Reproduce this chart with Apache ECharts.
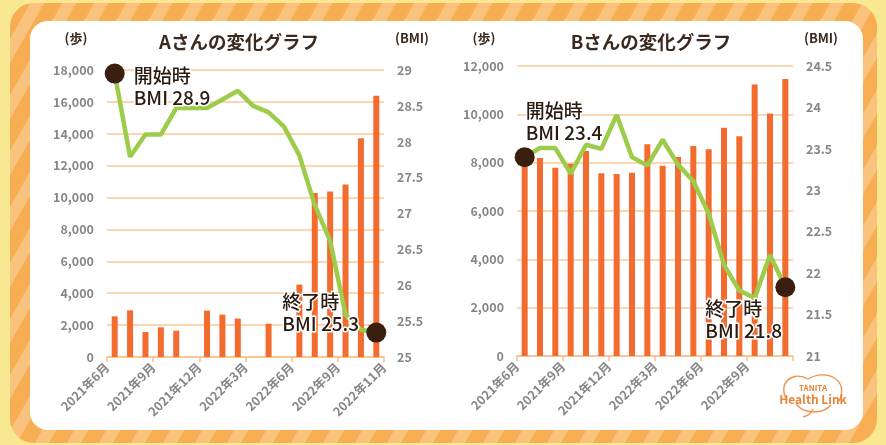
<!DOCTYPE html>
<html>
<head>
<meta charset="utf-8">
<script src="https://cdn.jsdelivr.net/npm/echarts@6/dist/echarts.min.js"></script>
<style>
  html, body { margin: 0; padding: 0; background: #f9e892; }
  #chart { width: 886px; height: 445px; }
</style>
</head>
<body>
<div id="chart"></div>
<script>
const months = [
  "2021年6月", "2021年7月", "2021年8月", "2021年9月", "2021年10月", "2021年11月",
  "2021年12月", "2022年1月", "2022年2月", "2022年3月", "2022年4月", "2022年5月",
  "2022年6月", "2022年7月", "2022年8月", "2022年9月", "2022年10月", "2022年11月",
];
// labels sit on every third category boundary (19 boundaries)
const tickLabelsA = ["2021年6月", "2021年9月", "2021年12月", "2022年3月", "2022年6月", "2022年9月", "2022年11月"];
const tickLabelsB = ["2021年6月", "2021年9月", "2021年12月", "2022年3月", "2022年6月", "2022年9月", ""];

const stepsA = [2550, 2930, 1570, 1860, 1650, null, 2910, 2660, 2410, null, 2090, null, 4540, 10290, 10380, 10820, 13720, 16380];
const bmiA = [28.95, 27.79, 28.1, 28.1, 28.47, 28.47, 28.47, 28.59, 28.71, 28.5, 28.41, 28.21, 27.81, 27.12, 26.62, 25.59, 25.38, 25.34];
const stepsB = [8100, 8190, 7790, 7960, 8480, 7560, 7530, 7580, 8760, 7870, 8230, 8690, 8560, 9450, 9090, 11230, 10030, 11460];
const bmiB = [23.4, 23.51, 23.51, 23.2, 23.55, 23.5, 23.91, 23.4, 23.3, 23.61, 23.31, 23.11, 22.72, 22.1, 21.79, 21.7, 22.22, 21.83];

const titles = ["Aさんの変化グラフ", "Bさんの変化グラフ"];
const startNotes = ["開始時\nBMI 28.9", "開始時\nBMI 23.4"];
const endNotes = ["終了時\nBMI 25.3", "終了時\nBMI 21.8"];

const stepAxis = [{ max: 18000, interval: 2000 }, { max: 12000, interval: 2000 }];
const bmiAxis = [{ min: 25, max: 29, interval: 0.5 }, { min: 21, max: 24.5, interval: 0.5 }];

const darkText = "#3b2a1f";
const grayText = "#868686";
const gridOrange = "#fcc896";
const axisOrange = "#fbbf85";
const barOrange = "#f26b2f";
const lineGreen = "#9dcc4a";
const dotBrown = "#3a1f10";
const logoOrange = "#ec9450";
const font = '"Noto Sans CJK JP", "Noto Sans", sans-serif';

function boundaryLabels(labels) {
  const out = new Array(months.length + 1).fill("");
  labels.forEach((l, i) => { out[i * 3] = l; });
  return out;
}

// diagonal stripe pattern for the frame
const pat = document.createElement("canvas");
const PW = 32, PH = 56, BW = 14;
pat.width = PW; pat.height = PH;
const pc = pat.getContext("2d");
pc.fillStyle = "#f7ae52";
pc.fillRect(0, 0, PW, PH);
pc.fillStyle = "#f9c27d";
for (let k = -1; k <= 1; k++) {
  pc.beginPath();
  pc.moveTo(k * PW, PH);
  pc.lineTo(k * PW + BW, PH);
  pc.lineTo(k * PW + PW + BW, 0);
  pc.lineTo(k * PW + PW, 0);
  pc.closePath();
  pc.fill();
}

const grids = [
  { left: 107, right: 502, top: 70, bottom: 88 },
  { left: 517, right: 93, top: 66, bottom: 89 },
];
const data = [
  { steps: stepsA, bmi: bmiA, ticks: tickLabelsA },
  { steps: stepsB, bmi: bmiB, ticks: tickLabelsB },
];
const notePos = [
  { start: [29, 1], end: [-84, -32] },
  { start: [11, -47], end: [-70, 21] },
];

const xAxis = [], yAxis = [], series = [];
data.forEach((d, p) => {
  xAxis.push({
    gridIndex: p, type: "category", position: "bottom", data: months, boundaryGap: true, show: false,
  });
  xAxis.push({
    gridIndex: p, type: "category", position: "bottom", data: boundaryLabels(d.ticks), boundaryGap: false,
    axisLine: { lineStyle: { color: axisOrange, width: 1.5 } },
    axisTick: { interval: 2, length: 5, lineStyle: { color: axisOrange, width: 1.5 } },
    axisLabel: { interval: 2, rotate: 45, color: grayText, fontSize: 12.5, fontWeight: "bold", margin: 8 },
    splitLine: { show: false },
  });
  yAxis.push({
    gridIndex: p, type: "value", position: "left", min: 0,
    max: stepAxis[p].max, interval: stepAxis[p].interval,
    axisLine: { show: false }, axisTick: { show: false },
    axisLabel: { color: grayText, fontSize: 12.5, fontWeight: "bold", margin: 13,
      formatter: (v) => v.toLocaleString("en-US") },
    splitLine: { lineStyle: { color: gridOrange, width: 1.5 } },
  });
  yAxis.push({
    gridIndex: p, type: "value", position: "right",
    min: bmiAxis[p].min, max: bmiAxis[p].max, interval: bmiAxis[p].interval,
    axisLine: { show: false }, axisTick: { show: false },
    axisLabel: { color: grayText, fontSize: 12.5, fontWeight: "bold", margin: 13 },
    splitLine: { show: false },
  });
  series.push({
    type: "bar", name: "歩数", xAxisIndex: p * 2, yAxisIndex: p * 2,
    data: d.steps, barWidth: 6, itemStyle: { color: barOrange },
  });
  const last = d.bmi.length - 1;
  const note = (text, pos) => ({
    show: true, formatter: text, position: pos, color: "#2a1a10", fontSize: 19,
    fontWeight: 500, lineHeight: 22, fontFamily: font,
    textBorderColor: "#fff", textBorderWidth: 3,
  });
  series.push({
    type: "line", name: "BMI", xAxisIndex: p * 2, yAxisIndex: p * 2 + 1,
    data: d.bmi, symbol: "none", z: 3,
    lineStyle: { color: lineGreen, width: 4.5 },
    markPoint: {
      symbol: "circle", symbolSize: 20, itemStyle: { color: dotBrown }, animation: false,
      data: [
        { coord: [months[0], d.bmi[0]], label: note(startNotes[p], notePos[p].start) },
        { coord: [months[last], d.bmi[last]], label: note(endNotes[p], notePos[p].end) },
      ],
    },
  });
});

const curve = (x1, y1, c1x, c1y, c2x, c2y, x2, y2) => ({
  type: "bezierCurve", z: 1,
  shape: { x1: x1, y1: y1, cpx1: c1x, cpy1: c1y, cpx2: c2x, cpy2: c2y, x2: x2, y2: y2 },
  style: { fill: null, stroke: logoOrange, lineWidth: 1.4 },
});

const chart = echarts.init(document.getElementById("chart"));
chart.setOption({
  animation: false,
  backgroundColor: "#f9e892",
  textStyle: { fontFamily: font },
  title: [
    { text: titles[0], left: 239, top: 33, textAlign: "center", padding: 0,
      textStyle: { color: darkText, fontSize: 18.5, fontWeight: "bold" } },
    { text: titles[1], left: 651, top: 33, textAlign: "center", padding: 0,
      textStyle: { color: darkText, fontSize: 18.5, fontWeight: "bold" } },
    { text: "(歩)", left: 76, top: 32, textAlign: "center", padding: 0,
      textStyle: { color: darkText, fontSize: 13, fontWeight: "bold" } },
    { text: "(BMI)", left: 412, top: 32, textAlign: "center", padding: 0,
      textStyle: { color: darkText, fontSize: 13, fontWeight: "bold" } },
    { text: "(歩)", left: 484, top: 32, textAlign: "center", padding: 0,
      textStyle: { color: darkText, fontSize: 13, fontWeight: "bold" } },
    { text: "(BMI)", left: 821, top: 32, textAlign: "center", padding: 0,
      textStyle: { color: darkText, fontSize: 13, fontWeight: "bold" } },
  ],
  graphic: [
    { type: "rect", z: -100, shape: { x: 10, y: 3, width: 867, height: 440, r: 24 },
      style: { fill: { image: pat, repeat: "repeat" } } },
    { type: "rect", z: -99, shape: { x: 30, y: 21, width: 833, height: 409, r: 18 },
      style: { fill: "#ffffff" } },
    curve(787, 400, 777, 384, 792, 370, 808, 379),
    curve(808, 379, 826, 368, 850, 380, 839, 401),
    curve(796, 404, 804, 414, 822, 415, 831, 405),
    curve(813, 409, 811, 414, 807, 416, 803, 417),
    { type: "text", z: 2, x: 813, y: 388,
      style: { text: "TANITA", fill: "#e8853a", font: "bold 8px " + font, align: "center", verticalAlign: "middle" } },
    { type: "text", z: 2, x: 813, y: 399,
      style: { text: "Health Link", fill: "#e8853a", font: "bold 12px " + font, align: "center", verticalAlign: "middle" } },
  ],
  grid: grids,
  xAxis: xAxis,
  yAxis: yAxis,
  series: series,
});
</script>
</body>
</html>
